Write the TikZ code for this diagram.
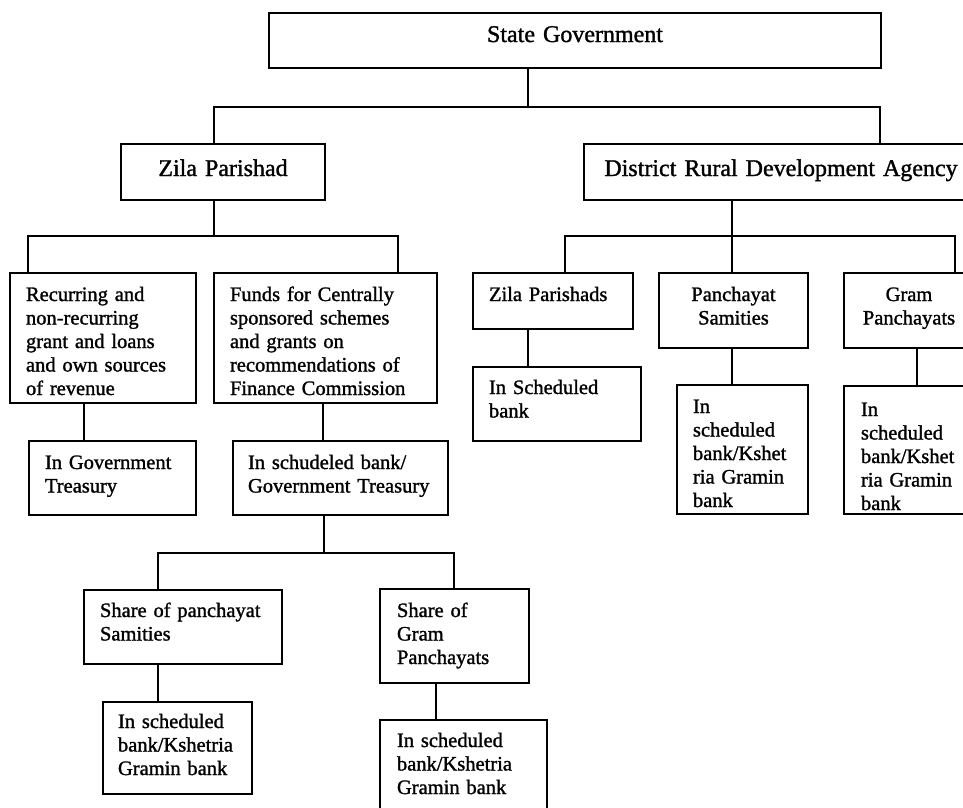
\documentclass[tikz,border=0pt]{standalone}
\usepackage{fontspec}
\setmainfont[BoldFont=Liberation Serif,BoldFeatures={FakeBold=1.3}]{Liberation Serif}
\begin{document}
\begin{tikzpicture}[x=1pt,y=-1pt,line width=2pt,
  box/.style={draw,anchor=north west,inner ysep=0pt,inner xsep=16pt,align=left,font=\fontsize{20.5}{23.5}\selectfont\bfseries},
  head/.style={box,align=center,inner xsep=10pt,font=\fontsize{24}{28}\selectfont\bfseries},
  mid/.style={box,align=center,inner xsep=5pt}]
\useasboundingbox (0,0) rectangle (963,807);
\node[head,text width=592pt,text height=29pt,text depth=26pt] (sg) at (268,12) {State Government};
\node[head,text width=184pt,text height=32pt,text depth=24pt] (zp) at (120,143) {Zila Parishad};
\node[head,text width=374pt,text height=32pt,text depth=24pt] (drda) at (583,143) {District Rural Development Agency};
\node[box,text width=154pt,text height=28pt,text depth=102pt] (rec) at (9,272) {Recurring and\\non-recurring\\grant and loans\\and own sources\\of revenue};
\node[box,text width=191pt,text height=28pt,text depth=102pt] (fund) at (213,272) {Funds for Centrally\\sponsored schemes\\and grants on\\recommendations of\\Finance Commission};
\node[box,text width=135pt,text height=28pt,text depth=46pt] (gt) at (28,440) {In Government\\Treasury};
\node[box,inner xsep=15pt,text width=185pt,text height=28pt,text depth=46pt] (sb) at (232,440) {In schudeled bank/\\Government Treasury};
\node[box,text width=166pt,text height=27pt,text depth=47pt] (sps) at (83,589) {Share of panchayat\\Samities};
\node[box,inner xsep=15pt,text width=119pt,text height=26pt,text depth=66pt] (spk) at (102,701) {In scheduled\\bank/Kshetria\\Gramin bank};
\node[box,inner xsep=17pt,text width=115pt,text height=28pt,text depth=66pt] (sgp) at (379,588) {Share of\\Gram\\Panchayats};
\node[box,inner xsep=17pt,text width=133pt,text height=27pt,text depth=84pt] (gpk) at (379,719) {In scheduled\\bank/Kshetria\\Gramin bank};
\node[box,text width=128pt,text height=28pt,text depth=28pt] (zps) at (472,272) {Zila Parishads};
\node[box,text width=136pt,text height=27pt,text depth=47pt] (zsb) at (472,366) {In Scheduled\\bank};
\node[mid,text width=139pt,text height=28pt,text depth=47pt] (pss) at (658,272) {Panchayat\\Samities};
\node[box,text width=99pt,text height=28pt,text depth=101pt] (psk) at (676,384) {In\\scheduled\\bank/Kshet\\ria Gramin\\bank};
\node[mid,text width=120pt,text height=28pt,text depth=47pt] (gps) at (843,272) {Gram\\Panchayats};
\node[box,inner xsep=17pt,text width=98pt,text height=30pt,text depth=98pt] (gpb) at (843,385) {In\\scheduled\\bank/Kshet\\ria Gramin\\bank};
\draw (528,0 |- sg.south) -- ++(0,38) -| (214,0 |- zp.north);
\draw (528,0 |- sg.south) -- ++(0,38) -| (880,0 |- drda.north);
\draw (214,0 |- zp.south) -- ++(0,35) -| (28,0 |- rec.north);
\draw (214,0 |- zp.south) -- ++(0,35) -| (398,0 |- fund.north);
\draw (84,0 |- rec.south) -- (84,0 |- gt.north);
\draw (323,0 |- fund.south) -- (323,0 |- sb.north);
\draw (324,0 |- sb.south) -- ++(0,37) -| (158,0 |- sps.north);
\draw (324,0 |- sb.south) -- ++(0,37) -| (454,0 |- sgp.north);
\draw (158,0 |- sps.south) -- (158,0 |- spk.north);
\draw (436,0 |- sgp.south) -- (436,0 |- gpk.north);
\draw (732,0 |- drda.south) -- ++(0,35) -| (565,0 |- zps.north);
\draw (732,0 |- drda.south) -- ++(0,35) -| (955,0 |- gps.north);
\draw (732,0 |- drda.south) -- (732,0 |- pss.north);
\draw (528,0 |- zps.south) -- (528,0 |- zsb.north);
\draw (732,0 |- pss.south) -- (732,0 |- psk.north);
\draw (917,0 |- gps.south) -- (917,0 |- gpb.north);
\end{tikzpicture}
\end{document}
